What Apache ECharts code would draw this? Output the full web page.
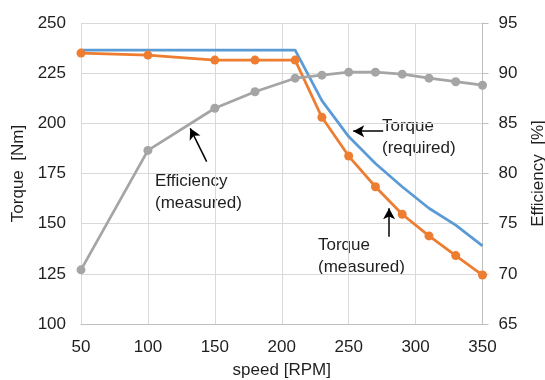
<!DOCTYPE html>
<html>
<head>
<meta charset="utf-8">
<script src="https://cdn.jsdelivr.net/npm/echarts@6/dist/echarts.min.js"></script>
<style>html,body{margin:0;padding:0;background:#fff}#c{width:545px;height:380px}</style>
</head>
<body>
<div id="c"></div>
<script>
const speeds = [50, 100, 150, 180, 210, 230, 250, 270, 290, 310, 330, 350];
const torqueRequired = [236.5, 236.5, 236.5, 236.5, 236.5, 211.3, 193.4, 180, 168.4, 157.7, 149.3, 138.9];
const torqueMeasured = [235, 234, 231.5, 231.5, 231.5, 203, 183.7, 168.4, 154.7, 143.9, 134.1, 124.4];
const efficiency = [70.4, 82.3, 86.5, 88.15, 89.5, 89.8, 90.1, 90.1, 89.9, 89.5, 89.15, 88.8];

const font = 'Liberation Sans, Arial, sans-serif';
const txt = '#1f1f1f';
const pair = (xs, ys) => xs.map((x, i) => [x, ys[i]]);

const chart = echarts.init(document.getElementById('c'), null, {renderer: 'canvas'});
chart.setOption({
  animation: false,
  grid: {left: 81, right: 62.5, top: 23, bottom: 56, containLabel: false, outerBoundsMode: 'none'},
  xAxis: {
    type: 'value', min: 50, max: 350, interval: 50,
    name: 'speed [RPM]', nameLocation: 'middle', nameGap: 38,
    nameTextStyle: {color: txt, fontSize: 17, fontFamily: font},
    axisLine: {show: true, lineStyle: {color: '#bfbfbf'}},
    axisTick: {show: false},
    axisLabel: {color: txt, fontSize: 17, fontFamily: font, margin: 15},
    splitLine: {show: true, lineStyle: {color: '#d9d9d9'}}
  },
  yAxis: [{
    type: 'value', min: 100, max: 250, interval: 25,
    name: 'Torque  [Nm]', nameLocation: 'middle', nameGap: 52,
    nameTextStyle: {color: txt, fontSize: 17, fontFamily: font},
    axisLine: {show: false}, axisTick: {show: false},
    axisLabel: {color: txt, fontSize: 17, fontFamily: font, margin: 15},
    splitLine: {show: true, lineStyle: {color: '#d9d9d9'}}
  }, {
    type: 'value', min: 65, max: 95, interval: 5,
    name: 'Efficiency  [%]', nameLocation: 'middle', nameGap: 47,
    nameTextStyle: {color: txt, fontSize: 17, fontFamily: font},
    axisLine: {show: true, lineStyle: {color: '#bfbfbf'}},
    axisTick: {show: true, inside: false, length: 6, lineStyle: {color: '#bfbfbf'}},
    axisLabel: {color: txt, fontSize: 17, fontFamily: font, margin: 16},
    splitLine: {show: false}
  }],
  series: [{
    name: 'Torque (required)', type: 'line', yAxisIndex: 0,
    data: pair(speeds, torqueRequired),
    showSymbol: false, symbol: 'none',
    lineStyle: {color: '#5b9bd5', width: 2.75},
    itemStyle: {color: '#5b9bd5'},
    markLine: {
      silent: true, symbol: ['none', 'arrow'], symbolSize: [9, 11],
      label: {show: false},
      lineStyle: {color: '#000', width: 1.5, type: 'solid'},
      data: [
        [{coord: [275.8, 196.1]}, {coord: [253.4, 196.1]}],
        [{coord: [143.9, 180.9]}, {coord: [131.6, 197.5]}],
        [{coord: [280.2, 143.5]}, {coord: [280.2, 157.7]}]
      ]
    }
  }, {
    name: 'Torque (measured)', type: 'line', yAxisIndex: 0,
    data: pair(speeds, torqueMeasured),
    symbol: 'circle', symbolSize: 9,
    lineStyle: {color: '#ed7d31', width: 2.75},
    itemStyle: {color: '#ed7d31'}
  }, {
    name: 'Efficiency (measured)', type: 'line', yAxisIndex: 1,
    data: pair(speeds, efficiency),
    symbol: 'circle', symbolSize: 9,
    lineStyle: {color: '#a5a5a5', width: 2.75},
    itemStyle: {color: '#a5a5a5'}
  }],
  graphic: [
    {type: 'text', left: 382, top: 115, style: {text: 'Torque\n(required)', font: '17px ' + font, fill: txt, lineHeight: 22}},
    {type: 'text', left: 155, top: 170, style: {text: 'Efficiency\n(measured)', font: '17px ' + font, fill: txt, lineHeight: 22}},
    {type: 'text', left: 318, top: 234, style: {text: 'Torque\n(measured)', font: '17px ' + font, fill: txt, lineHeight: 22}}
  ]
});
</script>
</body>
</html>
